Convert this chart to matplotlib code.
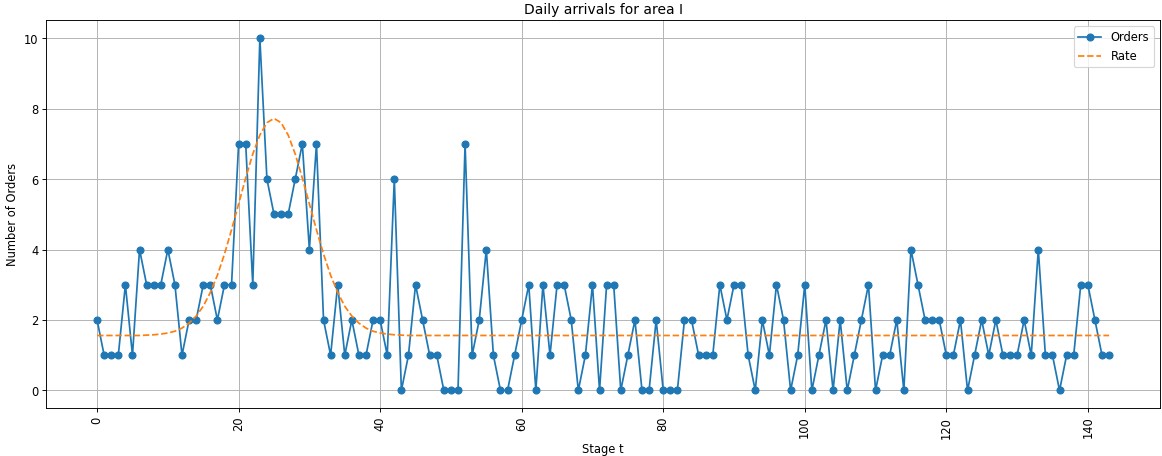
import matplotlib
matplotlib.use('Agg')
import matplotlib.pyplot as plt
import numpy as np

# Observed daily orders per stage for area I
orders = [2, 1, 1, 1, 3, 1, 4, 3, 3, 3, 4, 3, 1, 2, 2, 3, 3, 2, 3, 3,
          7, 7, 3, 10, 6, 5, 5, 5, 6, 7, 4, 7, 2, 1, 3, 1, 2, 1, 1, 2,
          2, 1, 6, 0, 1, 3, 2, 1, 1, 0, 0, 0, 7, 1, 2, 4, 1, 0, 0, 1,
          2, 3, 0, 3, 1, 3, 3, 2, 0, 1, 3, 0, 3, 3, 0, 1, 2, 0, 0, 2,
          0, 0, 0, 2, 2, 1, 1, 1, 3, 2, 3, 3, 1, 0, 2, 1, 3, 2, 0, 1,
          3, 0, 1, 2, 0, 2, 0, 1, 2, 3, 0, 1, 1, 2, 0, 4, 3, 2, 2, 2,
          1, 1, 2, 0, 1, 2, 1, 2, 1, 1, 1, 2, 1, 4, 1, 1, 0, 1, 1, 3,
          3, 2, 1, 1]

# Arrival rate per stage
rate = [1.56, 1.56, 1.56, 1.56, 1.56, 1.56, 1.56, 1.57, 1.58, 1.60,
        1.63, 1.68, 1.77, 1.91, 2.11, 2.39, 2.78, 3.27, 3.87, 4.56,
        5.30, 6.03, 6.71, 7.25, 7.60, 7.72, 7.60, 7.25, 6.71, 6.03,
        5.30, 4.56, 3.87, 3.27, 2.78, 2.39, 2.11, 1.91, 1.77, 1.68,
        1.63, 1.60, 1.58, 1.57] + [1.56] * 100

stages = np.arange(len(orders))

fig, ax = plt.subplots(figsize=(14, 5.5), dpi=83)
ax.plot(stages, orders, 'o-', label='Orders')
ax.plot(stages, rate, '--', label='Rate')
ax.set_title('Daily arrivals for area I')
ax.set_xlabel('Stage t')
ax.set_ylabel('Number of Orders')
ax.tick_params(axis='x', labelrotation=90)
ax.grid(True)
ax.legend(loc='upper right')
fig.subplots_adjust(left=0.04, right=0.998, top=0.954, bottom=0.105)
fig.savefig('out.png')
